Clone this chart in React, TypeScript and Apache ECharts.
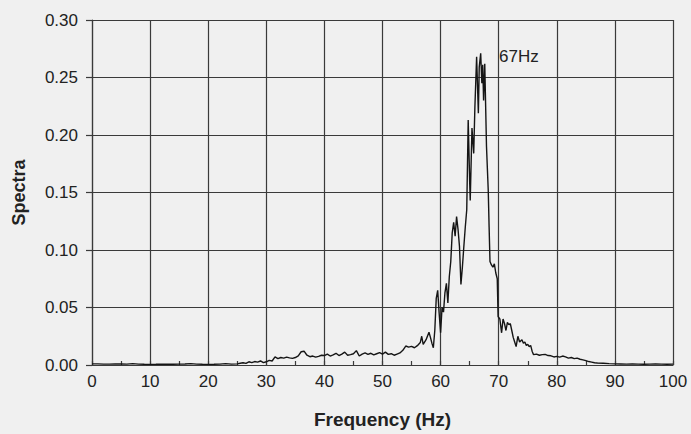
import React, { useEffect, useRef } from "react";
import * as echarts from "echarts";

const freqs: number[] = [
  0, 1, 2, 3, 4, 5, 6, 7, 8, 9, 10, 11, 12, 13, 14, 15, 16, 17, 18, 19, 20, 21, 22, 23, 24, 25,
  25.5, 26, 26.5, 27, 27.5, 28, 28.5, 29, 29.5, 30, 30.5, 31, 31.5, 32, 32.5, 33, 33.5, 34, 34.5, 35,
  35.5, 36, 36.5, 37, 37.5, 38, 38.5, 39, 39.5, 40, 40.5, 41, 41.5, 42, 42.5, 43, 43.5, 44, 44.5, 45,
  45.5, 46, 46.5, 47, 47.5, 48, 48.5, 49, 49.5, 50, 50.5, 51, 51.5, 52, 52.5, 53, 53.5, 54, 54.5, 55,
  55.5, 56, 56.5, 56.75, 57, 57.5, 58, 58.25, 58.5, 58.75, 59, 59.25, 59.5, 59.75, 60, 60.25, 60.5,
  60.75, 61, 61.25, 61.5, 61.75, 62, 62.25, 62.5, 62.75, 63, 63.25, 63.5, 63.75, 64, 64.25, 64.5,
  64.75, 65, 65.1, 65.4, 65.7, 65.9, 66.2, 66.5, 66.65, 66.9, 67.1, 67.25, 67.4, 67.6, 67.9, 68.2,
  68.35, 68.5, 68.75, 69, 69.25, 69.5, 69.75, 69.9, 70.2, 70.5, 70.75, 71, 71.25, 71.5, 71.75, 72,
  72.25, 72.5, 72.75, 73, 73.3, 73.6, 74, 74.25, 74.5, 74.75, 75, 75.25, 75.5, 75.75, 76, 76.5, 77,
  77.5, 78, 78.5, 79, 79.5, 80, 80.5, 81, 81.5, 82, 82.5, 83, 83.5, 84, 84.5, 85, 85.5, 86, 86.5, 87,
  88, 89, 90, 91, 92, 93, 94, 95, 96, 97, 98, 99, 100,
];

const spectra: number[] = [
  0.001, 0.001, 0.0008, 0.0008, 0.001, 0.0009, 0.0008, 0.0012, 0.0008, 0.0006, 0.0005, 0.0006, 0.0008,
  0.0007, 0.0006, 0.0008, 0.0009, 0.0012, 0.0008, 0.0006, 0.0005, 0.0006, 0.0008, 0.0012, 0.0008, 0.001,
  0.0015, 0.002, 0.0014, 0.0028, 0.002, 0.003, 0.0025, 0.0035, 0.002, 0.0028, 0.004, 0.0035, 0.007,
  0.0055, 0.0065, 0.006, 0.0068, 0.0062, 0.0058, 0.0065,
  0.008, 0.0115, 0.012, 0.0085, 0.0072, 0.0078, 0.0068, 0.0075, 0.0085, 0.0082, 0.0095, 0.0078, 0.0088,
  0.0102, 0.0082, 0.0095, 0.0112, 0.0085, 0.009, 0.0098,
  0.0125, 0.0078, 0.0095, 0.0105, 0.0092, 0.0102, 0.0088, 0.0098, 0.0108, 0.0095, 0.0112, 0.0092, 0.0098,
  0.0085, 0.0095, 0.0105, 0.0128, 0.0165, 0.0155, 0.0162,
  0.015, 0.0168, 0.0195, 0.025, 0.018, 0.022, 0.0285, 0.024, 0.019, 0.015, 0.03, 0.058, 0.065, 0.045,
  0.028, 0.05, 0.046,
  0.063, 0.071, 0.054, 0.077, 0.09, 0.115, 0.124, 0.112, 0.129, 0.118, 0.103, 0.07, 0.085, 0.103, 0.12,
  0.135,
  0.213, 0.16, 0.143, 0.206, 0.184, 0.224, 0.268, 0.219, 0.259, 0.271, 0.245, 0.261, 0.23, 0.262, 0.19,
  0.152,
  0.12, 0.09, 0.087, 0.085, 0.088, 0.08, 0.075, 0.042, 0.04, 0.028, 0.04, 0.036, 0.03, 0.037, 0.035,
  0.036,
  0.03, 0.024, 0.02, 0.016, 0.025, 0.02, 0.022, 0.019, 0.02, 0.017, 0.018, 0.016, 0.017, 0.012, 0.009,
  0.0095, 0.0085,
  0.009, 0.0092, 0.0082, 0.008, 0.007, 0.0075, 0.0068, 0.0078, 0.007, 0.006, 0.0065, 0.0055, 0.006,
  0.005, 0.0045, 0.0038, 0.003, 0.0025, 0.002, 0.0018,
  0.0015, 0.0012, 0.001, 0.0009, 0.0008, 0.0009, 0.0008, 0.0007, 0.0008, 0.0009, 0.0008, 0.0007, 0.0008,
];

const xTicks = { min: 0, max: 100, interval: 10, minorInterval: 5 };
const yTicks = { min: 0, max: 0.3, interval: 0.05 };
const peakLabel = "67Hz";
const peakLabelAt: [number, number] = [70.05, 0.2684];

export default function App() {
  const ref = useRef<HTMLDivElement>(null);
  useEffect(() => {
    if (!ref.current) return;
    const chart = echarts.init(ref.current, undefined, { renderer: "svg" });
    const font = "'Liberation Sans', Arial, Helvetica, sans-serif";
    const ink = "#222";
    const grid = "#3a3a3a";
    chart.setOption({
      animation: false,
      backgroundColor: "#f0f0f0",
      textStyle: { fontFamily: font },
      grid: { left: 92, right: 18, top: 20, bottom: 68.5, containLabel: false },
      xAxis: [
        {
          type: "value",
          min: xTicks.min,
          max: xTicks.max,
          interval: xTicks.interval,
          name: "Frequency (Hz)",
          nameLocation: "middle",
          nameGap: 45,
          nameTextStyle: { fontFamily: font, fontSize: 19, fontWeight: "bold", color: ink },
          axisLine: { show: true, lineStyle: { color: grid, width: 1.2 } },
          axisTick: { show: false },
          axisLabel: { fontFamily: font, fontSize: 17, color: ink, margin: 8 },
          splitLine: { show: true, lineStyle: { color: grid, width: 1.2 } },
        },
        {
          type: "value",
          position: "bottom",
          min: xTicks.min,
          max: xTicks.max,
          interval: xTicks.minorInterval,
          axisLine: { show: false },
          axisTick: { show: true, inside: true, length: 4, lineStyle: { color: grid, width: 1.2 } },
          axisLabel: { show: false },
          splitLine: { show: false },
        },
      ],
      yAxis: {
        type: "value",
        min: yTicks.min,
        max: yTicks.max,
        interval: yTicks.interval,
        name: "Spectra",
        nameLocation: "middle",
        nameGap: 64,
        nameTextStyle: { fontFamily: font, fontSize: 18, fontWeight: "bold", color: ink },
        axisLine: { show: true, lineStyle: { color: grid, width: 1.2 } },
        axisTick: { show: true, length: 6, lineStyle: { color: grid, width: 1.2 } },
        axisLabel: {
          fontFamily: font,
          fontSize: 17,
          color: ink,
          margin: 14,
          formatter: (v: number) => v.toFixed(2),
        },
        splitLine: { show: true, lineStyle: { color: grid, width: 1.2 } },
      },
      series: [
        {
          type: "line",
          xAxisIndex: 0,
          data: freqs.map((f, i) => [f, spectra[i]]),
          showSymbol: false,
          symbol: "none",
          lineStyle: { color: "#151515", width: 1.4 },
          z: 5,
        },
      ],
    });
    const [px, py] = chart.convertToPixel({ gridIndex: 0 }, peakLabelAt) as number[];
    chart.setOption({
      graphic: [
        {
          type: "text",
          x: px,
          y: py,
          z: 10,
          style: {
            text: peakLabel,
            fontFamily: font,
            fontSize: 17,
            fill: ink,
            align: "left",
            verticalAlign: "middle",
          },
        },
      ],
    });
    return () => chart.dispose();
  }, []);
  return (
    <div
      ref={ref}
      style={{ position: "fixed", left: 0, top: 0, width: 691, height: 434 }}
    />
  );
}
